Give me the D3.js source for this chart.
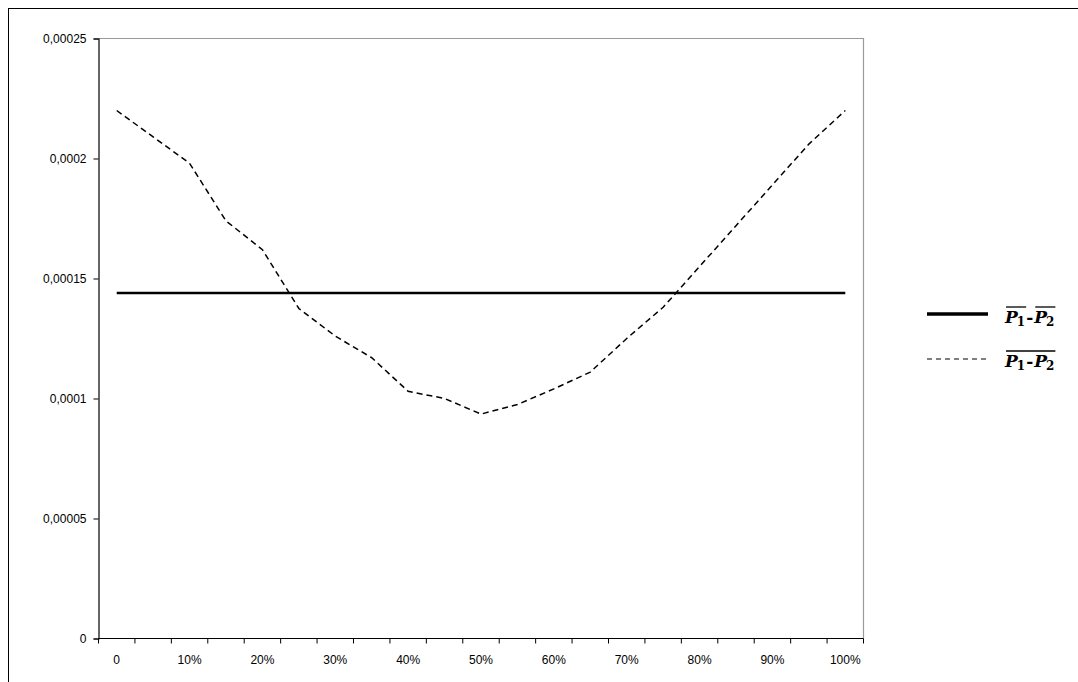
<!DOCTYPE html>
<html>
<head>
<meta charset="utf-8">
<script src="https://cdn.jsdelivr.net/npm/d3@7"></script>
<style>
  html, body { margin: 0; padding: 0; background: #fff; }
  svg { display: block; }
  .lbl { font-family: "Liberation Sans", Arial, sans-serif; font-size: 12px; fill: #000; }
  .leg { font-family: "DejaVu Serif", "Liberation Serif", serif; font-weight: bold; fill: #000; }
</style>
</head>
<body>
<svg id="chart" width="1078" height="682"></svg>
<script>
const categories = ["0","5%","10%","15%","20%","25%","30%","35%","40%","45%","50%","55%","60%","65%","70%","75%","80%","85%","90%","95%","100%"];
const meanDifference = [0.000144,0.000144,0.000144,0.000144,0.000144,0.000144,0.000144,0.000144,0.000144,0.000144,0.000144,0.000144,0.000144,0.000144,0.000144,0.000144,0.000144,0.000144,0.000144,0.000144,0.000144];
const differenceMean = [0.00022,0.000209,0.000198,0.000174,0.000162,0.0001375,0.000126,0.000117,0.000103,0.0001,0.0000935,0.0000975,0.000104,0.000111,0.000125,0.000138,0.000155,0.000172,0.000189,0.000206,0.00022];
const yTicks = [0,0.00005,0.0001,0.00015,0.0002,0.00025];
const yTickLabels = ["0","0,00005","0,0001","0,00015","0,0002","0,00025"];
const xLabelShown = ["0","10%","20%","30%","40%","50%","60%","70%","80%","90%","100%"];

const svg = d3.select("#chart");

// outer frame
svg.append("rect").attr("x",8.5).attr("y",8.5).attr("width",1100).attr("height",700)
  .attr("fill","none").attr("stroke","#000").attr("stroke-width",1);

const pLeft = 98.5, pRight = 863.5, pTop = 38.5, pBottom = 638.5;
const x = d3.scaleBand().domain(categories).range([pLeft, pRight]).padding(0);
const y = d3.scaleLinear().domain([0, 0.00025]).range([pBottom, pTop]);
const cx = c => x(c) + x.bandwidth()/2;

// plot frame (top/right gray)
svg.append("path").attr("d",`M${pLeft},${pTop}H${pRight}V${pBottom}`)
  .attr("fill","none").attr("stroke","#9a9a9a").attr("stroke-width",1.2);

// y axis
const yAxis = d3.axisLeft(y).tickValues(yTicks).tickSize(5).tickPadding(7)
  .tickFormat((d,i) => yTickLabels[i]);
const gy = svg.append("g").attr("transform",`translate(${pLeft},0)`).call(yAxis);
gy.attr("font-size",null).attr("font-family",null);
gy.select(".domain").attr("stroke","#000").attr("stroke-width",1.2);
gy.selectAll(".tick line").attr("stroke","#000");
gy.selectAll(".tick text").attr("class","lbl");

// x axis: ticks between categories
const gx = svg.append("g");
gx.append("line").attr("x1",pLeft).attr("x2",pRight).attr("y1",pBottom).attr("y2",pBottom)
  .attr("stroke","#000").attr("stroke-width",1.2);
const boundaries = categories.map(c => x(c)).concat([x(categories[categories.length-1]) + x.bandwidth()]);
gx.selectAll("line.tk").data(boundaries).enter().append("line").attr("class","tk")
  .attr("x1",d=>d).attr("x2",d=>d).attr("y1",pBottom).attr("y2",pBottom+5)
  .attr("stroke","#000").attr("stroke-width",1);
gx.selectAll("text").data(xLabelShown).enter().append("text").attr("class","lbl")
  .attr("x",d=>cx(d)).attr("y",pBottom+25).attr("text-anchor","middle").text(d=>d);

// lines
const line = d3.line().x((d,i)=>cx(categories[i])).y(d=>y(d));
svg.append("path").datum(meanDifference).attr("d",line)
  .attr("fill","none").attr("stroke","#000").attr("stroke-width",2.5);
svg.append("path").datum(differenceMean).attr("d",line)
  .attr("fill","none").attr("stroke","#000").attr("stroke-width",1.5)
  .attr("stroke-dasharray","6,4");

// legend
const lg = svg.append("g");
lg.append("line").attr("x1",927).attr("x2",988).attr("y1",314).attr("y2",314)
  .attr("stroke","#000").attr("stroke-width",3.5);
lg.append("line").attr("x1",927).attr("x2",986).attr("y1",359).attr("y2",359)
  .attr("stroke","#000").attr("stroke-width",1).attr("stroke-dasharray","5,4");

function legendLabel(x0, baseline, pieces, overlines) {
  let cur = x0;
  const pos = [];
  pieces.forEach(p => {
    const t = lg.append("text").attr("class","leg")
      .attr("x",cur).attr("y", baseline + (p.sub ? 3 : 0))
      .attr("font-size", p.sub ? 12 : 17)
      .attr("font-style", p.sub || p.t === "-" ? "normal" : "italic").text(p.t);
    const w = t.node().getComputedTextLength();
    pos.push([cur, cur + w]);
    cur += w + (p.gap || 0);
  });
  overlines.forEach(([a,b]) => {
    lg.append("line").attr("x1",pos[a][0]+1).attr("x2",pos[b][1]+1)
      .attr("y1",baseline-16).attr("y2",baseline-16).attr("stroke","#000").attr("stroke-width",1.3);
  });
}
legendLabel(1005, 323, [{t:"P",gap:-1},{t:"1",sub:true,gap:1},{t:"-",gap:1},{t:"P",gap:-1},{t:"2",sub:true}], [[0,1],[3,4]]);
legendLabel(1005, 367, [{t:"P",gap:-1},{t:"1",sub:true,gap:1},{t:"-",gap:1},{t:"P",gap:-1},{t:"2",sub:true}], [[0,4]]);
</script>
</body>
</html>
